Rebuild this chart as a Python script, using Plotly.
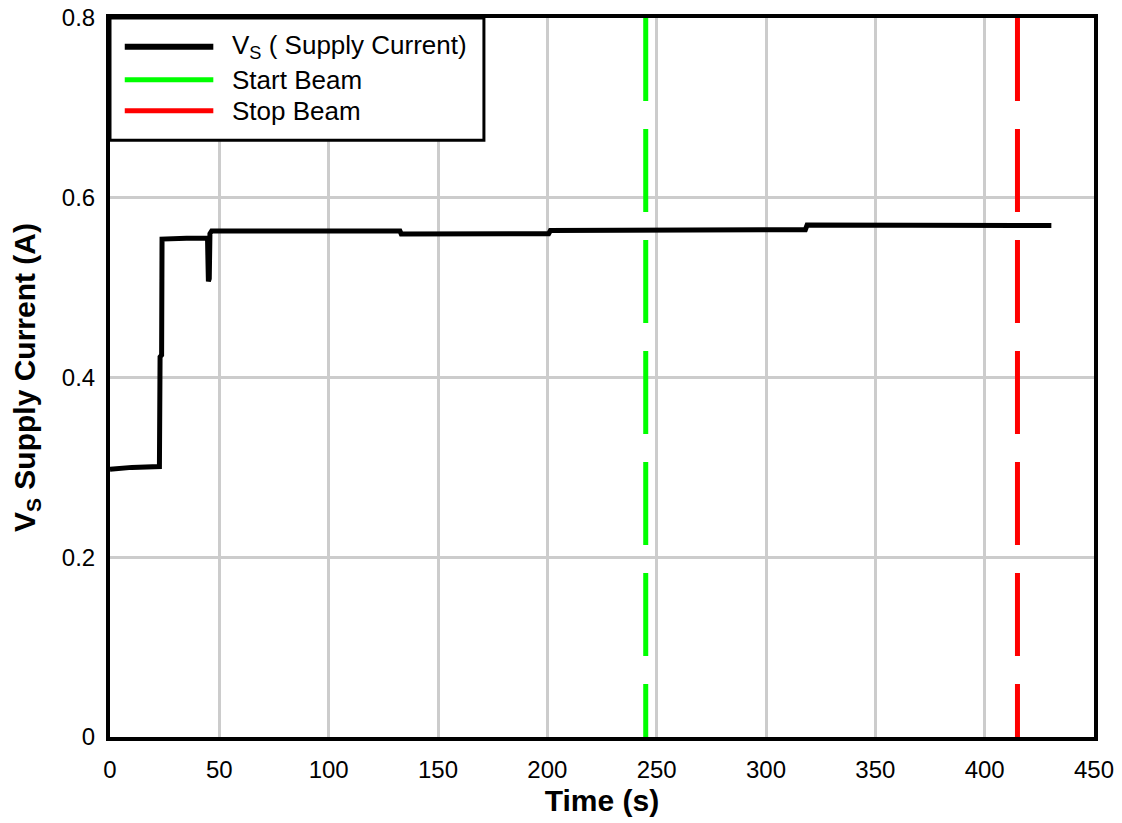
import plotly.graph_objects as go

# ---- data ----
time_s = [0, 10, 22.6, 22.9, 23.6, 23.8, 35, 44.6, 44.8, 45.0, 45.4, 45.7, 46.5, 90, 132.6, 133.2,
          170, 200.6, 201.4, 260, 318.0, 318.8, 380, 430.5]
supply_a = [0.298, 0.300, 0.301, 0.423, 0.425, 0.554, 0.555, 0.555, 0.530, 0.507, 0.510, 0.560, 0.563,
            0.563, 0.563, 0.5596, 0.5596, 0.5600, 0.5636, 0.5645, 0.5645, 0.5696, 0.5700, 0.5690]
start_beam_t = 245
stop_beam_t = 415
y_range = [0, 0.8]
x_range = [0, 450]
legend_names = ["V<sub>S</sub> ( Supply Current)", "Start Beam", "Stop Beam"]
legend_colors = ["#000000", "#00ff00", "#ff0000"]

FONT = "Liberation Sans, Arial, sans-serif"

fig = go.Figure()
fig.add_trace(go.Scatter(x=time_s, y=supply_a, mode="lines",
                         line=dict(color="black", width=5), showlegend=False))
fig.add_trace(go.Scatter(x=[start_beam_t, start_beam_t], y=[y_range[1], y_range[0]], mode="lines",
                         line=dict(color="#00ff00", width=5, dash="83px,28px"), showlegend=False))
fig.add_trace(go.Scatter(x=[stop_beam_t, stop_beam_t], y=[y_range[1], y_range[0]], mode="lines",
                         line=dict(color="#ff0000", width=5, dash="83px,28px"), showlegend=False))

# manual legend (box, sample lines, labels)
shapes = [dict(type="rect", xref="paper", yref="paper", x0=0, x1=0.380, y0=0.830, y1=1,
               line=dict(color="black", width=3), fillcolor="white", layer="above")]
annotations = []
ys = [0.960, 0.914, 0.871]
for name, col, yy in zip(legend_names, legend_colors, ys):
    shapes.append(dict(type="line", xref="paper", yref="paper", x0=0.015, x1=0.105, y0=yy, y1=yy,
                       line=dict(color=col, width=6 if col == "#000000" else 5), layer="above"))
    annotations.append(dict(xref="paper", yref="paper", x=0.122, y=yy, text=name, showarrow=False,
                            xanchor="left", yanchor="middle", font=dict(family=FONT, size=26, color="black")))

fig.update_layout(
    width=1114, height=815,
    margin=dict(l=102, r=28, t=10, b=86, autoexpand=False),
    plot_bgcolor="white", paper_bgcolor="white",
    font=dict(family=FONT, size=24, color="black"),
    shapes=shapes, annotations=annotations,
    showlegend=False,
)
fig.update_xaxes(range=x_range, dtick=50, tick0=0, showgrid=True, gridcolor="#cccccc", gridwidth=2.5,
                 showline=True, linecolor="black", linewidth=4, mirror=True, zeroline=False,
                 ticks="", tickfont=dict(family=FONT, size=24), ticklabelstandoff=8, automargin=False,
                 ticklabeloverflow="allow",
                 title=dict(text="<b>Time (s)</b>", font=dict(family=FONT, size=30), standoff=9))
fig.update_yaxes(range=y_range, dtick=0.2, tick0=0, showgrid=True, gridcolor="#cccccc", gridwidth=2.5,
                 showline=True, linecolor="black", linewidth=4, mirror=True, zeroline=False,
                 ticks="", tickfont=dict(family=FONT, size=24), ticklabelstandoff=6, automargin=False,
                 ticklabeloverflow="allow",
                 title=dict(text="<b>V<sub>S</sub> Supply Current (A)</b>", font=dict(family=FONT, size=30), standoff=22))

fig.write_html("out.html")
